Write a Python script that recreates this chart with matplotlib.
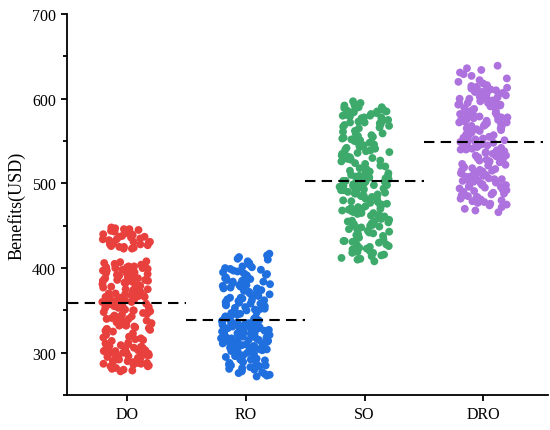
import numpy as np
import matplotlib
matplotlib.use("Agg")
import matplotlib.pyplot as plt
from matplotlib.ticker import MultipleLocator

categories = ["DO", "RO", "SO", "DRO"]
colors = ["#E8403D", "#1F6FDE", "#3DAA6C", "#AE72DE"]

do_values = [
    448,447,446,446,445,444,443,443,442,441,440,440,439,438,437,437,436,435,434,434,433,432,431,431,430,429,428,428,427,426,425,425,424,423,423,
    408,407,406,405,404,404,403,402,401,401,400,400,399,398,397,397,396,395,394,394,393,392,391,391,390,389,388,388,387,386,386,385,385,402,398,
    384,383,382,381,380,379,379,378,377,376,375,375,374,373,372,371,371,370,369,368,368,367,366,365,365,364,363,362,362,361,360,359,359,358,357,
    356,356,355,354,353,353,352,351,350,350,349,348,348,347,346,372,366,360,355,370,
    345,344,343,342,341,340,339,338,337,336,335,334,333,332,331,330,329,328,327,326,325,340,336,332,328,
    323,321,319,317,315,
    318,316,314,312,311,310,309,308,307,306,305,305,304,303,302,302,301,300,300,299,298,298,297,296,296,295,294,293,293,292,291,290,290,289,288,
    287,287,286,285,284,283,282,281,280,279,278,300,297,303,295,292,288,306,284,299,
]
ro_values = [
    417,415,413,411,410,408,406,405,404,402,401,400,
    399,398,397,396,395,394,393,392,391,390,389,388,387,386,385,384,383,382,381,380,379,378,377,376,375,374,373,372,371,370,392,386,380,376,384,
    369,368,367,366,365,364,363,362,361,360,359,358,357,356,355,354,353,352,351,350,349,348,347,346,345,344,343,342,341,340,365,358,352,346,362,
    339,338,337,336,335,334,333,332,331,330,329,328,327,326,325,324,323,322,321,320,319,318,317,316,315,314,313,312,311,310,309,308,307,306,305,
    304,303,302,301,300,338,336,334,332,330,328,326,324,322,320,318,316,314,312,310,308,306,304,302,335,331,327,323,319,315,311,307,303,333,325,
    317,321,329,313,309,
    299,298,297,296,295,294,293,292,291,290,289,288,287,286,285,284,283,282,281,280,279,278,277,276,275,274,273,272,292,285,
]
so_values = [
    597,595,593,592,590,589,588,587,586,585,584,583,582,581,580,579,578,577,576,575,574,573,572,571,570,569,568,567,566,565,585,578,572,590,580,
    562,561,559,558,557,556,555,554,553,552,551,550,549,548,547,546,545,544,543,542,541,540,539,538,537,536,535,534,533,532,531,530,529,528,527,
    526,524,523,521,520,518,517,515,
    514,513,512,511,510,509,508,507,506,505,504,503,502,501,500,499,498,497,496,495,494,493,492,491,490,489,488,487,486,485,484,483,482,481,480,
    505,502,500,498,503,507,496,501,499,494,509,492,497,504,488,
    479,478,477,476,475,474,473,472,471,470,469,468,467,466,465,464,463,462,461,460,459,458,457,456,455,454,453,452,451,450,449,448,447,446,445,
    444,443,442,441,440,470,460,455,465,450,
    439,438,436,435,434,432,431,430,428,427,426,424,423,422,420,419,418,416,415,414,412,411,410,408,432,425,418,
]
dro_values = [
    639,636,634,631,629,627,624,622,620,618,
    616,615,614,613,612,611,610,609,608,607,606,605,604,603,602,601,600,599,598,597,596,595,594,593,592,591,590,612,606,600,595,603,609,598,593,
    589,588,587,586,585,584,583,582,581,580,579,578,577,576,575,574,573,572,571,570,569,568,567,566,565,564,563,562,561,560,585,580,575,570,565,
    578,572,583,568,576,
    559,558,557,556,555,554,553,552,551,550,549,548,547,546,545,544,543,542,541,540,539,538,537,536,535,534,533,532,531,530,529,528,527,526,525,
    524,523,522,521,520,555,548,540,533,526,551,544,537,530,546,
    519,518,517,516,515,514,513,512,511,510,509,508,507,506,505,504,503,502,501,500,499,498,497,496,495,494,493,492,491,490,515,508,502,496,510,
    489,488,487,486,485,484,483,482,481,480,479,478,477,476,475,474,472,470,468,466,498,486,478,505,
]
groups = [do_values, ro_values, so_values, dro_values]
yticks = [300, 400, 500, 600, 700]

fig = plt.figure(figsize=(5.5, 4.31), dpi=100)
ax = fig.add_axes([0.122, 0.081, 0.875, 0.884])

jitter_half = 0.21
for i, (vals, col) in enumerate(zip(groups, colors)):
    vals = np.asarray(vals, dtype=float)
    n = len(vals)
    # deterministic hash-based jitter (horizontal positions only)
    k = np.arange(n, dtype=float)
    frac = np.abs(np.sin(k * 12.9898 + (i + 1) * 78.233) * 43758.5453) % 1.0
    xs = i + (frac - 0.5) * 2 * jitter_half
    ax.scatter(xs, vals, s=32, color=col, edgecolors="none", zorder=2)
    ax.hlines(np.mean(vals), i - 0.5, i + 0.5, colors="black",
              linestyles=(0, (5, 3)), linewidth=1.5, zorder=3)

ax.set_xlim(-0.506, 3.549)
ax.set_ylim(250, 700)
ax.set_xticks(range(len(categories)))
ax.set_xticklabels(categories)
ax.set_yticks(yticks)
ax.yaxis.set_minor_locator(MultipleLocator(50))

for side in ["top", "right"]:
    ax.spines[side].set_visible(False)
for side in ["left", "bottom"]:
    ax.spines[side].set_linewidth(1.3)

ax.tick_params(axis="both", which="major", direction="out", length=4.5, width=1.3,
               labelsize=11.5)
ax.tick_params(axis="y", which="minor", direction="out", length=3, width=1.3)
for lab in ax.get_xticklabels() + ax.get_yticklabels():
    lab.set_fontfamily("Liberation Serif")

ax.set_ylabel("Benefits(USD)", fontsize=13, fontfamily="Liberation Serif", labelpad=5)

fig.savefig("out.png", dpi=100)
